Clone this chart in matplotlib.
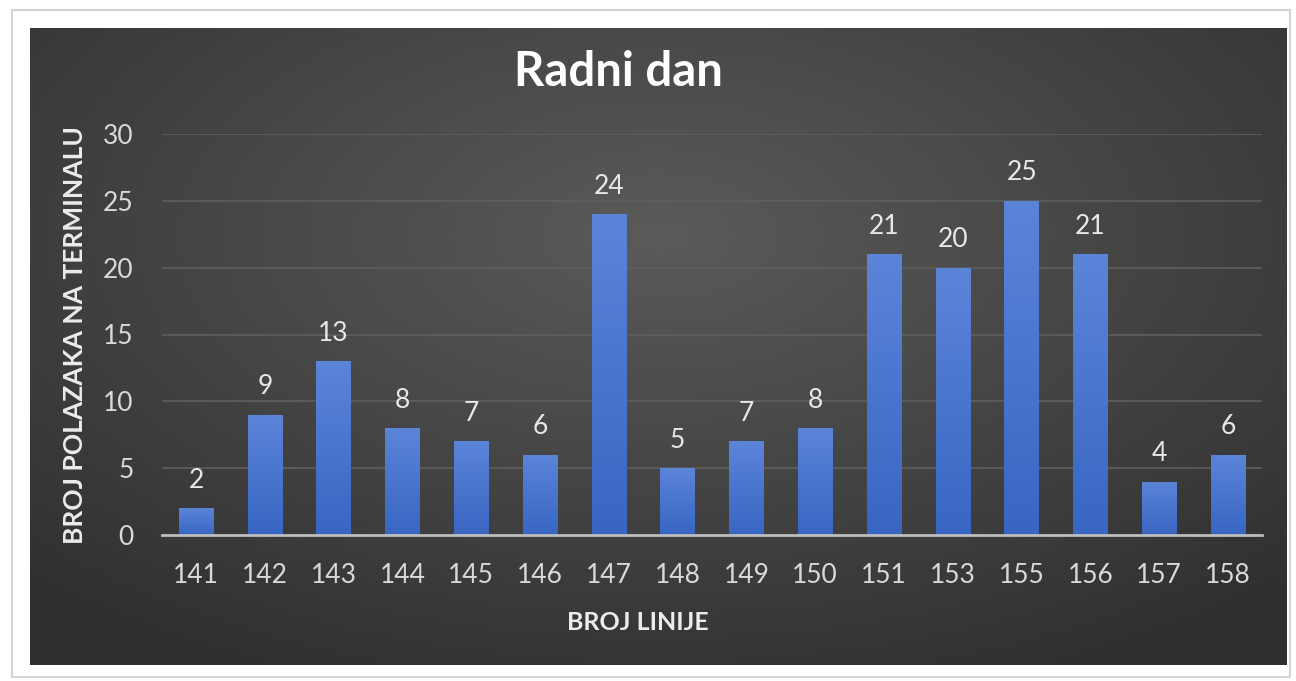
import numpy as np
import matplotlib.pyplot as plt
from matplotlib.patches import Rectangle

# data
linije = ['141', '142', '143', '144', '145', '146', '147', '148',
          '149', '150', '151', '153', '155', '156', '157', '158']
polasci = [2, 9, 13, 8, 7, 6, 24, 5, 7, 8, 21, 20, 25, 21, 4, 6]
y_ticks = [0, 5, 10, 15, 20, 25, 30]

plt.rcParams['font.family'] = ['Lato', 'DejaVu Sans']

W, H = 1296, 681
fig = plt.figure(figsize=(W / 100, H / 100), dpi=100, facecolor='white')

# white card with thin grey border (behind everything)
card = Rectangle((12 / W, 4 / H), 1278 / W, 667 / H, transform=fig.transFigure,
                 facecolor='white', edgecolor='#d4d4d4', linewidth=1.5, zorder=-10)
fig.add_artist(card)

# dark panel with radial gradient
bg = fig.add_axes([30 / W, 16 / H, 1257 / W, 637 / H])
gx, gy = np.meshgrid(np.linspace(-1, 1, 400), np.linspace(-1, 1, 200))
r = np.clip(np.sqrt((gx * 0.95) ** 2 + ((gy + 0.35) * 0.9) ** 2), 0, 1.4) / 1.4
shade = 0.355 - 0.17 * r
bg.imshow(np.dstack([shade, shade, shade]), aspect='auto', extent=[0, 1, 0, 1])
bg.set_axis_off()

ax = fig.add_axes([161.6 / W, 146 / H, 1100.8 / W, 401 / H])
ax.patch.set_alpha(0)

x = np.arange(len(linije))
bars = ax.bar(x, polasci, width=0.5, color='#4a74cc', zorder=3)

# vertical gradient inside each bar
grad = np.linspace(0, 1, 100).reshape(-1, 1)
top = np.array([0.36, 0.52, 0.85])
bot = np.array([0.22, 0.40, 0.76])
img = bot + (top - bot) * grad[..., None]
img = img.reshape(100, 1, 3)
for b in bars:
    im = ax.imshow(img, aspect='auto', origin='lower', zorder=4,
                   extent=[b.get_x(), b.get_x() + b.get_width(), 0, b.get_height()])
    im.set_clip_path(b)

for xi, v in zip(x, polasci):
    ax.text(xi, v + 1.15, str(v), ha='center', va='bottom', color='#e8e8e8',
            fontsize=19, zorder=5, clip_on=False)

ax.set_xlim(-0.5, len(linije) - 0.5)
ax.set_ylim(0, 30)
ax.set_yticks(y_ticks)
ax.set_xticks(x)
ax.set_xticklabels(linije)
ax.tick_params(axis='both', length=0, colors='#d9d9d9', labelsize=19)
ax.tick_params(axis='x', pad=20)
ax.tick_params(axis='y', pad=20)
ax.grid(axis='y', color='#5f5f5f', linewidth=1.2, zorder=1)
ax.set_axisbelow(True)
for s in ['top', 'right', 'left']:
    ax.spines[s].set_visible(False)
ax.spines['bottom'].set_color('#bdbdbd')
ax.spines['bottom'].set_linewidth(2)
ax.spines['bottom'].set_zorder(6)

fig.text(638 / W, 1 - 623 / H, 'BROJ LINIJE', ha='center', va='center',
         color='#ececec', fontsize=18, fontweight='bold')
fig.text(75 / W, 1 - 335 / H, 'BROJ POLAZAKA NA TERMINALU', ha='center', va='center',
         rotation=90, color='#ececec', fontsize=19, fontweight='bold')

fig.text(618 / W, 1 - 72 / H, 'Radni dan', ha='center', va='center',
         color='white', fontsize=34, fontweight='bold')

fig.savefig('out.png', dpi=100, facecolor='white')
